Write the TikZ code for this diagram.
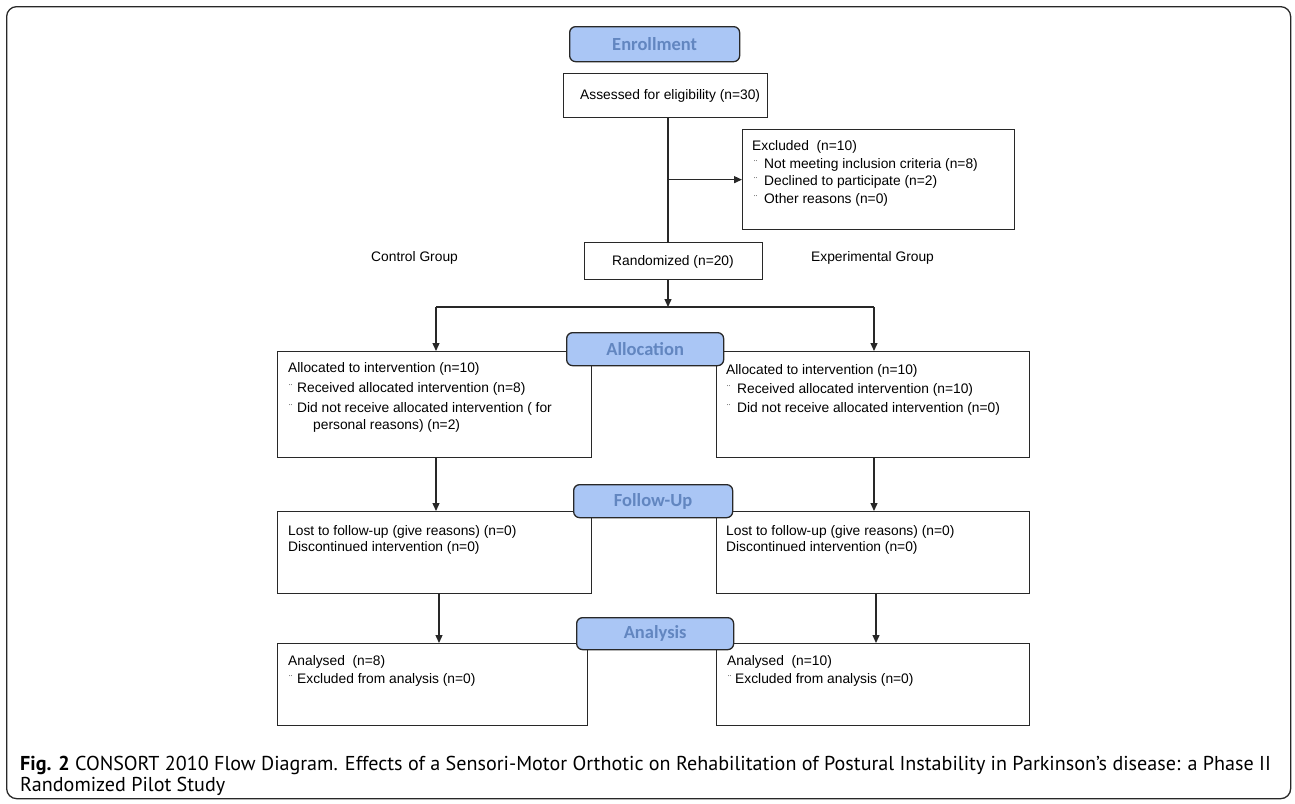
\documentclass[tikz,border=0pt]{standalone}
\usepackage{fontspec}
\setmainfont{Liberation Sans}
\newfontfamily\lblfont{Carlito}
\newfontfamily\capfont{PT Sans}
\usetikzlibrary{arrows.meta}
\definecolor{lblfill}{RGB}{170,198,245}
\definecolor{lbltext}{RGB}{98,134,192}
\definecolor{linec}{RGB}{40,40,40}
\tikzset{
  box/.style={draw=linec, line width=1.3pt, rectangle, inner sep=0pt, anchor=north west},
  lbl/.style={draw=linec, fill=lblfill, line width=1.3pt, rounded corners=6pt, inner sep=0pt, anchor=north west,
    text=lbltext, font=\lblfont\bfseries\fontsize{18.5}{20}\selectfont},
  txt/.style={anchor=west, inner sep=0pt, font=\fontsize{13.8}{16}\selectfont},
  bul/.style={anchor=west, inner sep=0pt, text=black!70, font=\fontsize{10}{10}\selectfont},
  conn/.style={draw=linec, line width=1.3pt},
  arr/.style={conn, -{Triangle[length=8pt,width=7pt]}},
}
\begin{document}
\begin{tikzpicture}[x=1pt,y=-1pt]
\useasboundingbox (0,0) rectangle (1295,803);
% outer frame
\node[draw=linec, line width=1.3pt, rounded corners=10pt, minimum width=1284pt, minimum height=792pt, anchor=north west, inner sep=0pt] (frame) at (6,6) {};

% boxes
\node[box, minimum width=204pt, minimum height=44pt] (assess) at (563,73) {};
\node[box, minimum width=272pt, minimum height=100pt] (excl) at (742,129) {};
\node[box, minimum width=178pt, minimum height=37pt] (rand) at (584,242) {};
\node[box, minimum width=314pt, minimum height=106pt] (allocL) at (277,351) {};
\node[box, minimum width=313pt, minimum height=106pt] (allocR) at (716,351) {};
\node[box, minimum width=314pt, minimum height=82pt] (followL) at (277,511) {};
\node[box, minimum width=313pt, minimum height=82pt] (followR) at (716,511) {};
\node[box, minimum width=310pt, minimum height=82pt] (analL) at (277,643) {};
\node[box, minimum width=313pt, minimum height=82pt] (analR) at (716,643) {};

% stage labels
\node[lbl, minimum width=170pt, minimum height=35pt] (enroll) at (569,26) {Enrollment};
\node[lbl, minimum width=157pt, minimum height=33pt] (alloc) at (566,332) {Allocation};
\node[lbl, minimum width=159pt, minimum height=33pt] (follow) at (573,484) {Follow-Up};
\node[lbl, minimum width=157pt, minimum height=32pt] (anal) at (576,617) {Analysis};

% texts
\node[txt] (tassess) at (580,96) {Assessed for eligibility (n=30)};
\node[txt] (trand) at (612,262) {Randomized (n=20)};
\node[txt] (tctrl) at (371,258) {Control Group};
\node[txt] (texp) at (811,258) {Experimental Group};

\node[txt] (te1) at (752,147) {Excluded\ \ (n=10)};
\node[bul] (be2) at (754,164) {¨};
\node[txt] (te2) at (764,165) {Not meeting inclusion criteria (n=8)};
\node[bul] (be3) at (754,181) {¨};
\node[txt] (te3) at (764,182) {Declined to participate (n=2)};
\node[bul] (be4) at (754,199) {¨};
\node[txt] (te4) at (764,200) {Other reasons (n=0)};

\node[txt] (tal1) at (288,369) {Allocated to intervention (n=10)};
\node[bul] (bal2) at (289,388) {¨};
\node[txt] (tal2) at (297,389) {Received allocated intervention (n=8)};
\node[bul] (bal3) at (289,408) {¨};
\node[txt] (tal3) at (297,409) {Did not receive allocated intervention ( for};
\node[txt] (tal4) at (313,426) {personal reasons) (n=2)};

\node[txt] (tar1) at (726,371) {Allocated to intervention (n=10)};
\node[bul] (bar2) at (727,389) {¨};
\node[txt] (tar2) at (737,390) {Received allocated intervention (n=10)};
\node[bul] (bar3) at (727,408) {¨};
\node[txt] (tar3) at (737,409) {Did not receive allocated intervention (n=0)};

\node[txt] (tfl1) at (288,532) {Lost to follow-up (give reasons) (n=0)};
\node[txt] (tfl2) at (288,548) {Discontinued intervention (n=0)};
\node[txt] (tfr1) at (726,532) {Lost to follow-up (give reasons) (n=0)};
\node[txt] (tfr2) at (726,548) {Discontinued intervention (n=0)};

\node[txt] (tanl1) at (288,662) {Analysed\ \ (n=8)};
\node[bul] (banl2) at (289,679) {¨};
\node[txt] (tanl2) at (297,680) {Excluded from analysis (n=0)};
\node[txt] (tanr1) at (727,662) {Analysed\ \ (n=10)};
\node[bul] (banr2) at (728,679) {¨};
\node[txt] (tanr2) at (735,680) {Excluded from analysis (n=0)};

% connectors
\coordinate (vx) at (668,0);
\coordinate (lx) at (436,0);
\coordinate (rx) at (874,0);
\coordinate (lx2) at (439,0);
\coordinate (rx2) at (876,0);
\coordinate (split) at (668,307);
\coordinate (splitL) at (436,307);
\coordinate (splitR) at (874,307);
\draw[conn] (assess.south -| vx) -- (rand.north -| vx);
\draw[arr] (vx |- excl.west) -- (excl.west);
\draw[arr] (rand.south -| vx) -- (split);
\draw[conn] (splitL) -- (splitR);
\draw[arr] (splitL) -- (allocL.north -| splitL);
\draw[arr] (splitR) -- (allocR.north -| splitR);
\draw[arr] (allocL.south -| lx) -- (followL.north -| lx);
\draw[arr] (allocR.south -| rx) -- (followR.north -| rx);
\draw[arr] (followL.south -| lx2) -- (analL.north -| lx2);
\draw[arr] (followR.south -| rx2) -- (analR.north -| rx2);

% caption
\node[anchor=base west, inner sep=0pt, align=left, font=\capfont\fontsize{20.1}{21}\selectfont] (cap) at (20,791)
  {\textbf{Fig. 2} CONSORT 2010 Flow Diagram. Effects of a Sensori-Motor Orthotic on Rehabilitation of Postural Instability in Parkinson’s disease: a Phase II\\
   Randomized Pilot Study};
\end{tikzpicture}
\end{document}
